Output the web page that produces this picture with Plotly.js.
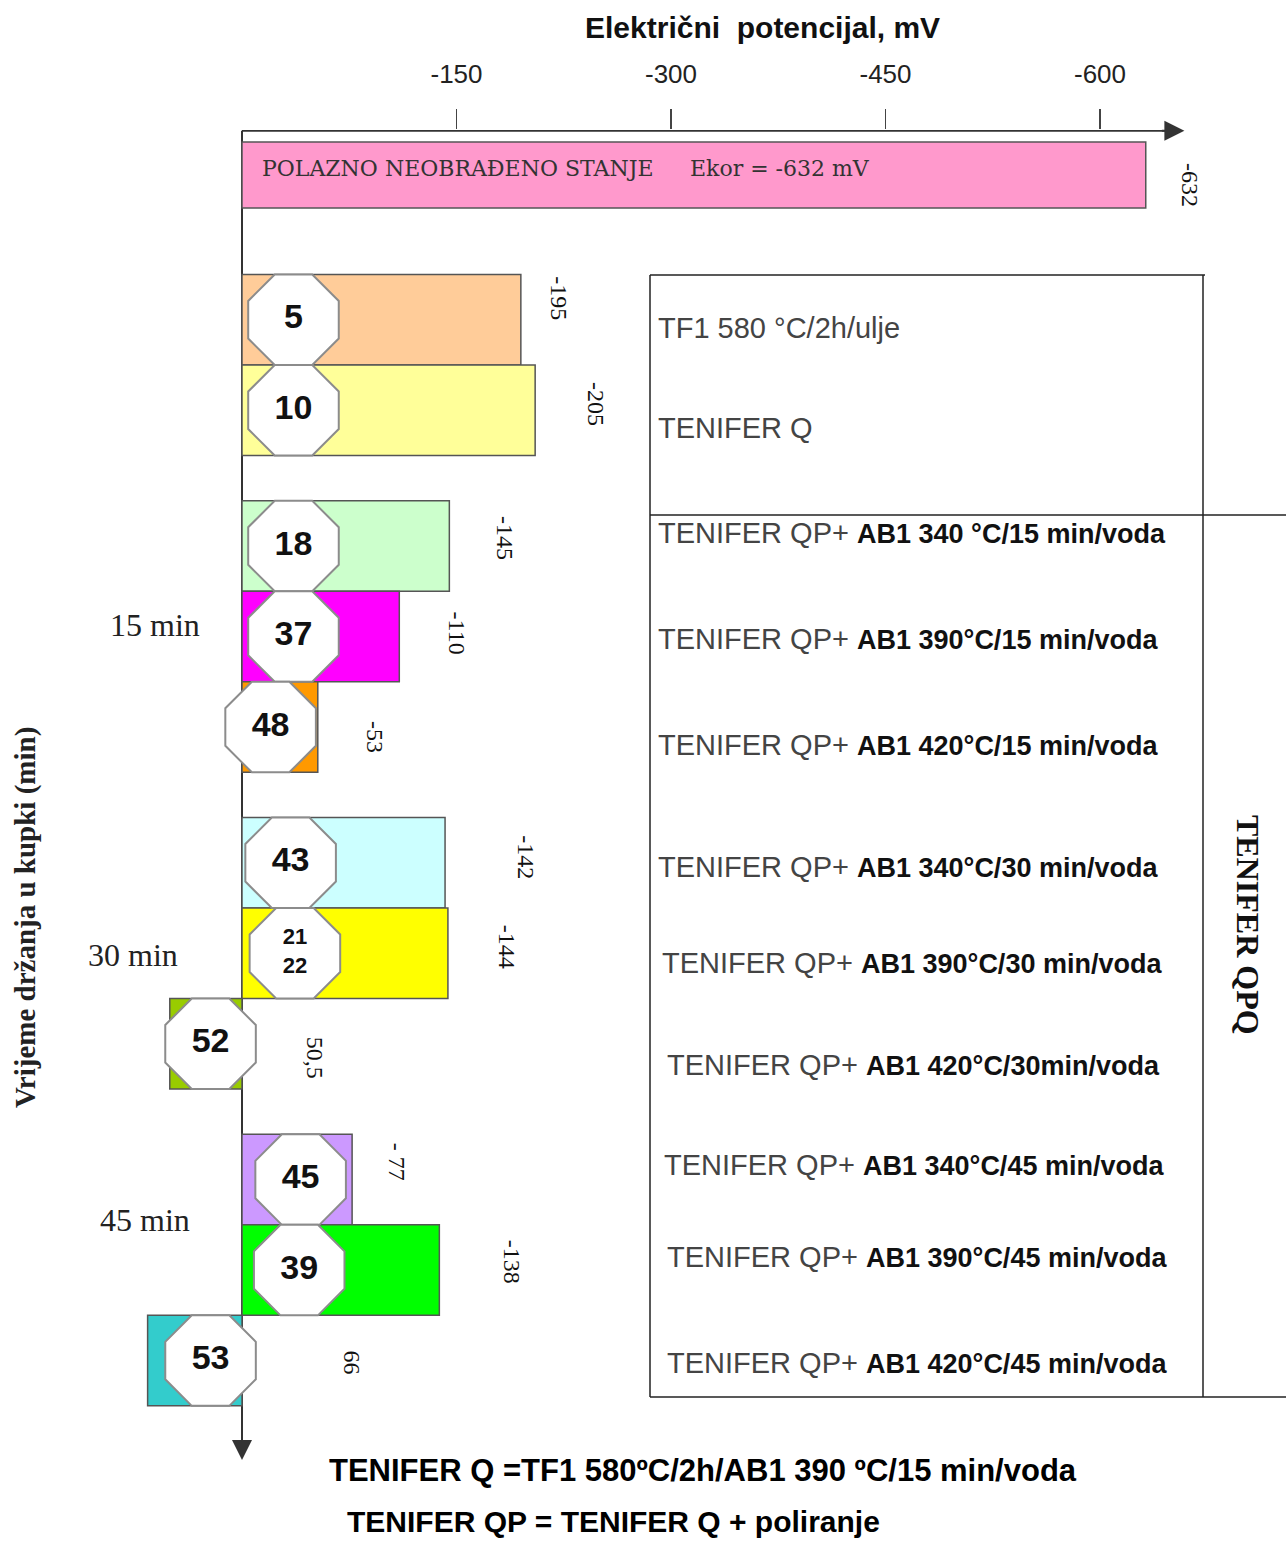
<!DOCTYPE html>
<html>
<head>
<meta charset="utf-8">
<script src="https://cdn.plot.ly/plotly-3.0.1.min.js"></script>
<style>html,body{margin:0;padding:0;background:#fff}</style>
</head>
<body>
<div id="chart" style="width:1286px;height:1542px"></div>
<script>
// --- fonts ---
const SANS = 'Liberation Sans, Arial, sans-serif';
const SERIF = 'Liberation Serif, Times New Roman, serif';

// --- data: corrosion potential per sample (mV) ---
const potentials = [-632, -195, -205, -145, -110, -53, -142, -144, 50.5, -77, -138, 66];
const potentialText = ['-632', '-195', '-205', '-145', '-110', '-53', '-142', '-144', '50,5', '- 77', '-138', '66'];
const sampleIds = ['5', '10', '18', '37', '48', '43', '21<br>22', '52', '45', '39', '53'];
const barColors = ['#FF99CC', '#FFCC99', '#FFFF99', '#CCFFCC', '#FF00FF', '#FF9900',
                   '#CCFFFF', '#FFFF00', '#99CC00', '#CC99FF', '#00FF00', '#33CCCC'];
const holdTimes = ['15 min', '30 min', '45 min'];
const tableHead = ['TF1 580 °C/2h/ulje', 'TENIFER Q'];
const qpPrefix = 'TENIFER QP+';
const qpTreatments = ['AB1 340 °C/15 min/voda', 'AB1 390°C/15 min/voda', 'AB1 420°C/15 min/voda',
                      'AB1 340°C/30 min/voda', 'AB1 390°C/30 min/voda', 'AB1 420°C/30min/voda',
                      'AB1 340°C/45 min/voda', 'AB1 390°C/45 min/voda', 'AB1 420°C/45 min/voda'];
const tickVals = [-150, -300, -450, -600];
const tickText = ['-150', '-300', '-450', '-600'];

// --- layout positions (row slots, label offsets) ---
const rowPos = [0, 1.6, 2.6, 4.1, 5.1, 6.1, 7.6, 8.6, 9.6, 11.1, 12.1, 13.1];
const barWidth = [0.73, 1, 1, 1, 1, 1, 1, 1, 1, 1, 1, 1];
const octX = [-36, -36, -36, -36, -20, -34, -37, 22, -41, -40, 22];
const labelX = [-663, -222, -247, -184, -151, -93, -199, -185, -51, -109, -189, -77];
const labelDy = [10, -21, -6, -8, -3, 10, -6, -7, 14, -18, -8, 2];
const tableRowY = [328, 428, 533, 639, 745, 867, 963, 1065, 1165, 1257, 1363];
const tableRowX = [656, 656, 656, 656, 656, 656, 660, 665, 662, 665, 665];
const holdX = [155, 133, 145];
const holdY = [625, 955, 1220];

// pixel -> paper helpers (margins t=130, b=77, l=r=0)
const W = 1286, TOP = 130, BOT = 1465;
const px = x => x / W;
const py = y => (BOT - y) / (BOT - TOP);

// text placed by pixel position on the page
function note(x, y, text, font, extra) {
    return Object.assign({
        x: px(x), y: py(y), xref: 'paper', yref: 'paper',
        xanchor: 'center', yanchor: 'middle',
        text: text, showarrow: false, font: font
    }, extra || {});
}

const traces = [
    {
        type: 'bar',
        orientation: 'h',
        x: potentials,
        y: rowPos,
        width: barWidth,
        marker: { color: barColors, line: { color: '#555', width: 1.5 } },
        hoverinfo: 'skip'
    },
    {
        type: 'scatter',
        mode: 'markers+text',
        x: octX,
        y: rowPos.slice(1),
        text: sampleIds,
        textposition: 'middle center',
        textfont: {
            family: SANS,
            size: sampleIds.map(s => s.includes('<br>') ? 22 : 34),
            color: '#111',
            weight: 'bold'
        },
        marker: { symbol: 'octagon', size: 98, color: '#fff', line: { color: '#8c8c8c', width: 2 } },
        cliponaxis: false,
        hoverinfo: 'skip'
    }
];

const annotations = [];

// value labels, rotated
potentialText.forEach((t, i) => {
    annotations.push({
        x: labelX[i], y: rowPos[i], xref: 'x', yref: 'y',
        xanchor: 'center', yanchor: 'middle',
        text: t, textangle: 90, showarrow: false,
        yshift: -labelDy[i],
        font: { family: SERIF, size: 24, color: '#111' }
    });
});

// text inside the first bar
const polFont = { family: 'DejaVu Serif, serif', size: 22, color: '#333' };
annotations.push(note(260, 168, 'POLAZNO NEOBRAĐENO STANJE', polFont, { xanchor: 'left' }));
annotations.push(note(688, 168, 'Ekor = -632 mV', polFont, { xanchor: 'left' }));

// holding time labels
holdTimes.forEach((t, i) => {
    annotations.push(note(holdX[i], holdY[i], t, { family: SERIF, size: 32, color: '#222' }));
});

// treatment table text
const tableTexts = tableHead.concat(qpTreatments.map(t =>
    qpPrefix + ' <b><span style="font-size:27px;color:#111">' + t + '</span></b>'));
tableTexts.forEach((t, i) => {
    annotations.push(note(tableRowX[i], tableRowY[i], t,
        { family: SANS, size: 29, color: '#444' }, { xanchor: 'left' }));
});

annotations.push(note(1248, 925, '<b>TENIFER QPQ</b>',
    { family: SERIF, size: 32, color: '#111' }, { textangle: 90 }));

// axis titles
annotations.push(note(762, 28, '<b>Električni&nbsp; potencijal, mV</b>',
    { family: SANS, size: 30, color: '#111' }));
annotations.push(note(25, 918, '<b>Vrijeme držanja u kupki (min)</b>',
    { family: SERIF, size: 29, color: '#222' }, { textangle: -90 }));

// notes under the chart
annotations.push(note(703, 1470, '<b>TENIFER Q =TF1 580ºC/2h/AB1 390 ºC/15 min/voda</b>',
    { family: SANS, size: 31, color: '#000' }));
annotations.push(note(613, 1521, '<b>TENIFER QP = TENIFER Q + poliranje</b>',
    { family: SANS, size: 30, color: '#000' }));

// arrow heads of the two axes
annotations.push({
    x: -659, y: -0.49, xref: 'x', yref: 'y', ax: -24, ay: 0,
    text: '', showarrow: true, arrowhead: 2, arrowsize: 2, arrowwidth: 2, arrowcolor: '#333'
});
annotations.push({
    x: 0, y: 14.2, xref: 'x', yref: 'y', ax: 0, ay: -24,
    text: '', showarrow: true, arrowhead: 2, arrowsize: 2, arrowwidth: 2, arrowcolor: '#333'
});

const line = { color: '#333', width: 2 };
const tline = { color: '#222', width: 1.5 };
const shapes = [
    // axis lines
    { type: 'line', xref: 'x', yref: 'y', x0: 0, x1: -650, y0: -0.49, y1: -0.49, line: line, layer: 'below' },
    { type: 'line', xref: 'x', yref: 'y', x0: 0, x1: 0, y0: -0.49, y1: 14.0, line: line, layer: 'below' },
    // table frame
    { type: 'line', xref: 'paper', yref: 'paper', x0: px(650), x1: px(1205), y0: py(275), y1: py(275), line: tline },
    { type: 'line', xref: 'paper', yref: 'paper', x0: px(650), x1: px(650), y0: py(275), y1: py(1397), line: tline },
    { type: 'line', xref: 'paper', yref: 'paper', x0: px(1203), x1: px(1203), y0: py(275), y1: py(1397), line: tline },
    { type: 'line', xref: 'paper', yref: 'paper', x0: px(650), x1: px(1286), y0: py(515), y1: py(515), line: tline },
    { type: 'line', xref: 'paper', yref: 'paper', x0: px(650), x1: px(1286), y0: py(1397), y1: py(1397), line: tline }
];

const layout = {
    width: 1286,
    height: 1542,
    margin: { l: 0, r: 0, t: TOP, b: 1542 - BOT },
    paper_bgcolor: '#fff',
    plot_bgcolor: 'rgba(0,0,0,0)',
    showlegend: false,
    xaxis: {
        range: [169.23, -730.07],
        side: 'top',
        tickvals: tickVals,
        ticktext: tickText,
        ticks: 'outside',
        ticklen: 20,
        tickwidth: 1.5,
        tickcolor: '#444',
        tickfont: { family: SANS, size: 26, color: '#222' },
        ticklabelstandoff: 16,
        showgrid: false,
        zeroline: false,
        showline: false,
        fixedrange: true
    },
    yaxis: {
        range: [14.254, -0.497],
        visible: false,
        fixedrange: true
    },
    annotations: annotations,
    shapes: shapes
};

Plotly.newPlot('chart', traces, layout, { displayModeBar: false, staticPlot: true });
</script>
</body>
</html>
